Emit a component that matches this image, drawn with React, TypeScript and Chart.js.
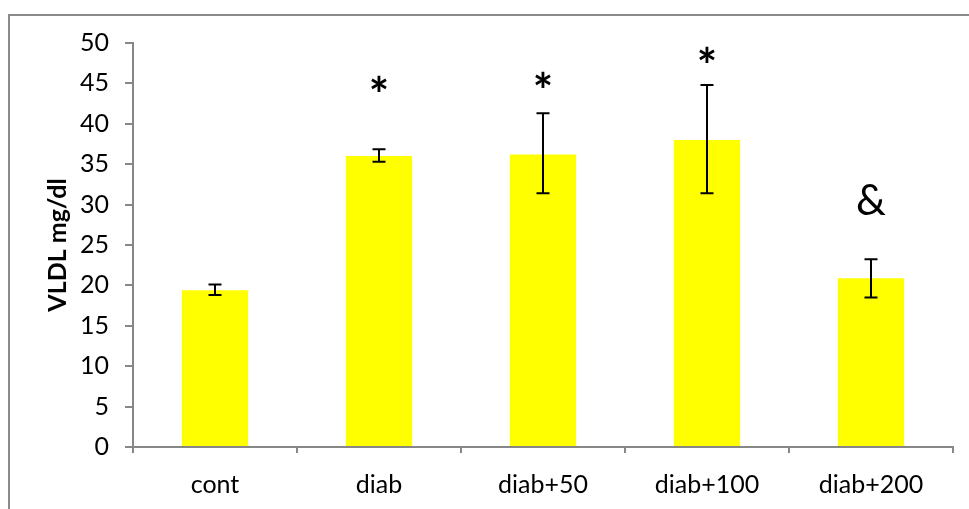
import React, { useEffect, useRef } from "react";
import { Chart, registerables } from "chart.js";

Chart.register(...registerables);

const categories = ["cont", "diab", "diab+50", "diab+100", "diab+200"];
const vldlMeans = [19.4, 36.0, 36.2, 38.0, 20.9];
const errLow = [18.8, 35.3, 31.4, 31.4, 18.5];
const errHigh = [20.1, 36.85, 41.3, 44.8, 23.25];
const markLabels = ["", "*", "*", "*", "&"];
const markCenters = [0, 45.0, 45.5, 48.6, 30.6];
const yAxisTitle = "VLDL mg/dl";
const yMin = 0;
const yMax = 50;
const yStep = 5;

const FONT = "Lato, 'Open Sans', sans-serif";
const GRAY = "#878787";

const framePlugin = {
  id: "frame",
  beforeDraw(chart: any) {
    const { ctx } = chart;
    ctx.save();
    ctx.fillStyle = "#ffffff";
    ctx.fillRect(0, 0, chart.width, chart.height);
    ctx.strokeStyle = "#8a8a8a";
    ctx.lineWidth = 2;
    ctx.strokeRect(9, 15, 1200, 800);
    ctx.restore();
  },
};

const errorBarPlugin = {
  id: "errorBars",
  afterDatasetsDraw(chart: any) {
    const { ctx } = chart;
    const xs = chart.scales.x;
    const ys = chart.scales.y;
    ctx.save();
    ctx.strokeStyle = "#000000";
    ctx.lineWidth = 2;
    for (let i = 0; i < categories.length; i++) {
      const px = xs.getPixelForValue(i);
      const yLo = ys.getPixelForValue(errLow[i]);
      const yHi = ys.getPixelForValue(errHigh[i]);
      const cap = 6.5;
      ctx.beginPath();
      ctx.moveTo(px, yLo);
      ctx.lineTo(px, yHi);
      ctx.moveTo(px - cap, yLo);
      ctx.lineTo(px + cap, yLo);
      ctx.moveTo(px - cap, yHi);
      ctx.lineTo(px + cap, yHi);
      ctx.stroke();
    }
    // significance marks
    ctx.fillStyle = "#000000";
    ctx.textAlign = "center";
    ctx.textBaseline = "alphabetic";
    for (let i = 0; i < categories.length; i++) {
      const label = markLabels[i];
      if (!label) continue;
      ctx.font = label === "&" ? `42px ${FONT}` : `bold 48px ${FONT}`;
      const m = ctx.measureText(label);
      const px = xs.getPixelForValue(i);
      const cy = ys.getPixelForValue(markCenters[i]);
      const y = cy + (m.actualBoundingBoxAscent - m.actualBoundingBoxDescent) / 2;
      ctx.fillText(label, px, y);
    }
    ctx.restore();
  },
};

export default function App() {
  const canvasRef = useRef<HTMLCanvasElement | null>(null);

  useEffect(() => {
    document.body.style.margin = "0";
    const canvas = canvasRef.current;
    if (!canvas) return;
    const chart = new Chart(canvas, {
      type: "bar",
      data: {
        labels: categories,
        datasets: [
          {
            data: vldlMeans,
            backgroundColor: "#ffff00",
            borderWidth: 0,
            categoryPercentage: 1,
            barPercentage: 0.404,
          },
        ],
      },
      options: {
        responsive: false,
        animation: false,
        events: [],
        layout: { padding: { left: 0, top: 43, right: 16, bottom: 0 } },
        plugins: { legend: { display: false }, tooltip: { enabled: false } },
        scales: {
          x: {
            afterFit(scale: any) {
              scale.height = 62;
            },
            grid: {
              display: true,
              drawOnChartArea: false,
              drawTicks: true,
              tickLength: 6,
              color: GRAY,
              lineWidth: 2,
              offset: true,
            },
            border: { display: true, color: GRAY, width: 2 },
            ticks: {
              color: "#000000",
              font: { family: FONT, size: 25 },
              padding: 17,
              maxRotation: 0,
            },
          },
          y: {
            min: yMin,
            max: yMax,
            afterFit(scale: any) {
              scale.width = 133;
            },
            grid: {
              display: true,
              drawOnChartArea: false,
              drawTicks: true,
              tickLength: 8,
              color: GRAY,
              lineWidth: 2,
            },
            border: { display: true, color: GRAY, width: 2 },
            ticks: {
              stepSize: yStep,
              color: "#000000",
              font: { family: FONT, size: 25 },
              padding: 16,
            },
            title: {
              display: true,
              text: yAxisTitle,
              color: "#000000",
              font: { family: FONT, size: 25, weight: "bold" },
              padding: { top: 43, bottom: 0 },
            },
          },
        },
      },
      plugins: [framePlugin, errorBarPlugin],
    });
    return () => chart.destroy();
  }, []);

  return (
    <div style={{ width: 969, height: 509, position: "relative" }}>
      <canvas ref={canvasRef} width={969} height={509} style={{ display: "block", width: 969, height: 509 }} />
    </div>
  );
}
